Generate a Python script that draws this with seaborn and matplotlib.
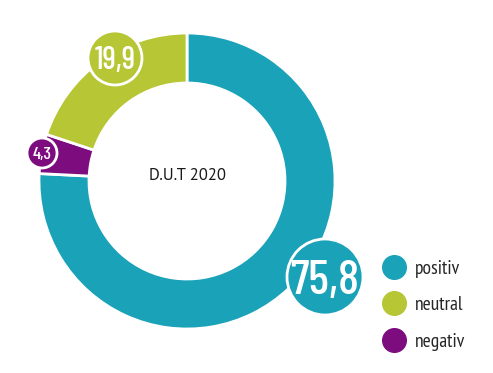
import matplotlib
matplotlib.use("Agg")
import matplotlib.pyplot as plt
from matplotlib.patches import Circle
from matplotlib.lines import Line2D
import seaborn as sns

# data
categories = ["positiv", "neutral", "negativ"]
values = [75.8, 19.9, 4.3]
value_labels = ["75,8", "19,9", "4,3"]
center_label = "D.U.T 2020"

colors = {"positiv": "#1aa2b9", "neutral": "#b7c634", "negativ": "#7d0c7e"}

sns.set_style("white")
plt.rcParams["font.family"] = ["PT Sans Narrow", "DejaVu Sans"]

W, H = 493, 373
CX, CY, R = 187, 181, 148  # pie centre / radius in pixels (y from top)


def px(x, y):
    return (x - CX) / R, (CY - y) / R


fig = plt.figure(figsize=(W / 100, H / 100), dpi=100)
ax = fig.add_axes([0, 0, 1, 1])

# ring order clockwise from the top: positiv, negativ, neutral
order = ["positiv", "negativ", "neutral"]
sizes = [values[categories.index(c)] for c in order]
ax.pie(sizes, colors=[colors[c] for c in order], startangle=90,
       counterclock=False, radius=1.0,
       wedgeprops=dict(width=50 / R, edgecolor="white", linewidth=2))

ax.text(0, px(0, 176)[1], center_label, ha="center", va="center",
        fontsize=12, family=["PT Sans", "Open Sans", "DejaVu Sans"], color="#1a1a1a")

# value bubbles: pixel centre, radius px, font size
bubbles = {
    "positiv": ((325, 277), 38, 35),
    "neutral": ((115, 58), 27, 23),
    "negativ": ((42, 153), 15, 13),
}
for cat, lab in zip(categories, value_labels):
    (bx, by), br, fs = bubbles[cat]
    x, y = px(bx, by)
    ax.add_patch(Circle((x, y), br / R, facecolor=colors[cat], edgecolor="white",
                        linewidth=2, zorder=3))
    ax.text(x, y, lab, ha="center", va="center_baseline", color="white",
            fontsize=fs, family=["Barlow Condensed", "PT Sans Narrow", "DejaVu Sans"],
            fontweight=500, zorder=4)

handles = [Line2D([], [], marker="o", linestyle="", markersize=17,
                  markerfacecolor=colors[c], markeredgecolor=colors[c]) for c in categories]
ax.legend(handles, categories, loc="upper left", bbox_to_anchor=(373 / W, 1 - 250 / H),
          frameon=False, fontsize=14, handletextpad=0.45, labelspacing=0.95,
          borderpad=0, handlelength=1.2)

ax.set_xlim(-CX / R, (W - CX) / R)
ax.set_ylim(-(H - CY) / R, CY / R)
ax.set_aspect("auto")
ax.axis("off")

fig.savefig("out.png", dpi=100)
